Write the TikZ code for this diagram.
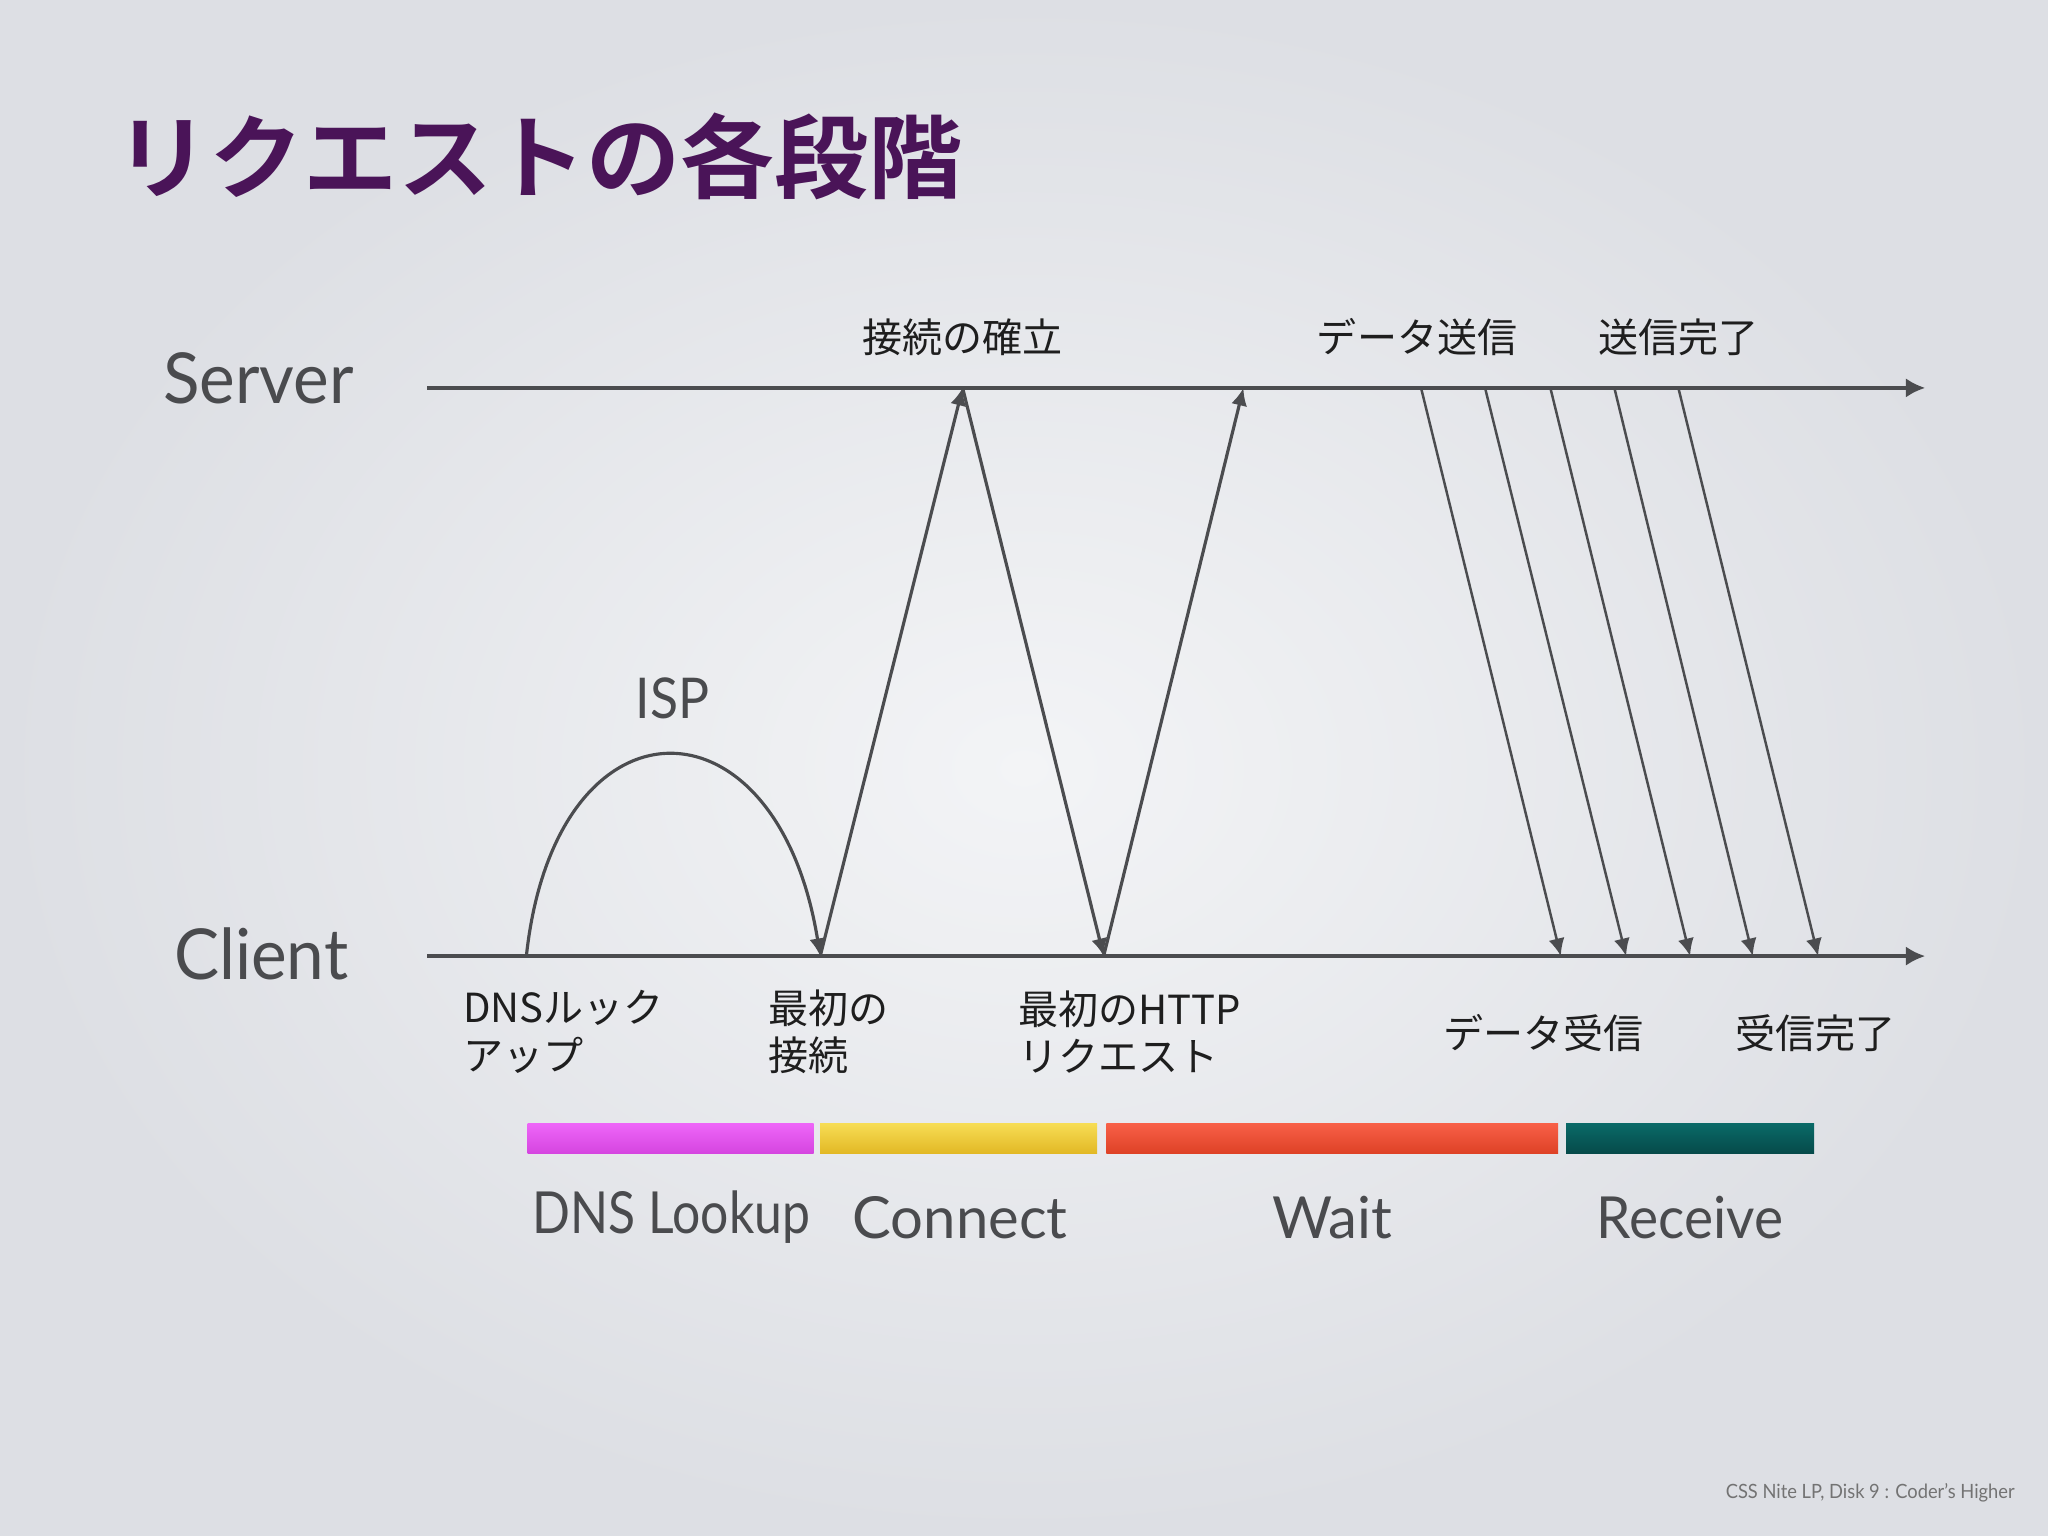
\documentclass[tikz,border=0pt]{standalone}
\usepackage{fontspec}
\setmainfont{Lato}
\newfontfamily\cjk{Noto Sans CJK JP}
\newfontfamily\cjkb{Noto Sans CJK JP Bold}
\usetikzlibrary{arrows.meta,shadings}
\definecolor{bgin}{HTML}{F3F4F6}
\definecolor{bgout}{HTML}{DDDFE4}
\definecolor{ink}{HTML}{4B4C4F}
\definecolor{titlec}{HTML}{4A1458}
\definecolor{txt}{HTML}{1E1E1E}
\definecolor{lbl}{HTML}{4A4B4E}
\definecolor{magT}{HTML}{EE66F8}
\definecolor{magB}{HTML}{D545E0}
\definecolor{yelT}{HTML}{F7DD55}
\definecolor{yelB}{HTML}{E2B825}
\definecolor{redT}{HTML}{F86048}
\definecolor{redB}{HTML}{DE4226}
\definecolor{teaT}{HTML}{0A6A68}
\definecolor{teaB}{HTML}{064A4A}
\tikzset{
  axis/.style={draw=ink,line width=0.95pt,-{Latex[length=5.5pt,width=5.5pt]}},
  msg/.style={draw=ink,line width=0.9pt,-{Latex[length=5pt,width=4.6pt]}},
  data/.style={draw=ink,line width=0.7pt,-{Latex[length=5pt,width=4.6pt]}},
  jlab/.style={font=\cjk\fontsize{11.4}{13.4}\selectfont,text=txt,inner sep=0pt},
  jlabl/.style={jlab,align=left,anchor=west},
  role/.style={font=\fontsize{20}{22}\selectfont,text=lbl,inner sep=0pt,xscale=0.96},
  phase/.style={font=\fontsize{16.5}{18}\selectfont,text=lbl,inner sep=0pt}
}
\begin{document}
\begin{tikzpicture}[x=0.013061cm,y=-0.013061cm]
\useasboundingbox (0,0) rectangle (1568,1176);
\shade[inner color=bgin,outer color=bgout] (0,0) rectangle (1568,1176);
% title
\node[font=\cjkb\fontsize{26}{28}\selectfont,text=titlec,anchor=west,inner sep=0pt,xscale=1.03] (title) at (88,120) {リクエストの各段階};
% roles
\node[role] (server) at (198,290) {Server};
\node[role] (client) at (200,730) {Client};
% axes
\coordinate (s0) at (327,297);
\coordinate (s1) at (1474,297);
\coordinate (c0) at (327,732);
\coordinate (c1) at (1474,732);
\draw[axis] (s0) -- (s1);
\draw[axis] (c0) -- (c1);
% points
\coordinate (dnsA) at (403,732);
\coordinate (con1) at (628,732);
\coordinate (srv1) at (737,297);
\coordinate (http) at (845,732);
\coordinate (srv2) at (952,297);
% ISP
\node[font=\fontsize{16}{18}\selectfont,text=lbl,inner sep=0pt,xscale=0.92] (isp) at (515,535) {ISP};
\draw[msg] (dnsA) .. controls (425,527) and (595,527) .. (con1);
\draw[msg] (con1) -- (srv1);
\draw[msg] (srv1) -- (http);
\draw[msg] (http) -- (srv2);
% data
\foreach \a/\b [count=\i] in {1088/1195,1137/1245,1187/1294,1236/1342,1285/1392}{
  \coordinate (ds\i) at (\a,297);
  \coordinate (dr\i) at (\b,732);
  \draw[data] (ds\i) -- (dr\i);
}
% top labels
\node[jlab] (kakuritsu) at (737,258) {接続の確立};
\node[jlab] (soushin) at (1085,258) {データ送信};
\node[jlab] (soushinkan) at (1285,258) {送信完了};
% bottom labels
\node[jlabl] (dnsl) at (354,790) {DNSルック\\アップ};
\node[jlabl] (firstc) at (588,790) {最初の\\接続};
\node[jlabl] (firsth) at (779,790) {最初のHTTP\\リクエスト};
\node[jlab] (jushin) at (1182,791) {データ受信};
\node[jlab] (jushinkan) at (1390,791) {受信完了};
% bars
\shade[top color=magT,bottom color=magB] (404,860) rectangle (623,883);
\shade[top color=yelT,bottom color=yelB] (628,860) rectangle (840,883);
\shade[top color=redT,bottom color=redB] (847,860) rectangle (1193,883);
\shade[top color=teaT,bottom color=teaB] (1199,860) rectangle (1389,883);
\node[phase,xscale=0.86] (pdns) at (514,932) {DNS Lookup};
\node[phase,xscale=1.0] (pcon) at (735,932) {Connect};
\node[phase,xscale=1.0] (pwait) at (1020,932) {Wait};
\node[phase,xscale=0.95] (precv) at (1294,932) {Receive};
% footer
\node[font=\fontsize{5.6}{7}\selectfont,text=gray!90!black,anchor=east,inner sep=0pt,xscale=0.93] (footer) at (1543,1143) {CSS Nite LP, Disk 9 : Coder's Higher};
\end{tikzpicture}
\end{document}
